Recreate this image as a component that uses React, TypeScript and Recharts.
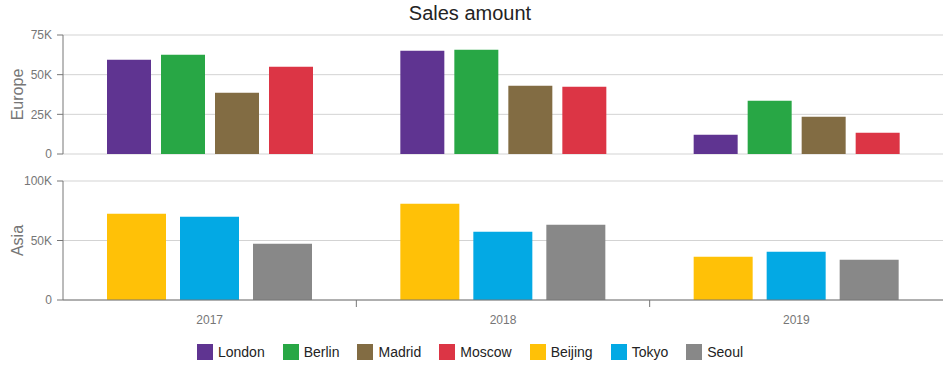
import React from 'react';
import { BarChart, Bar, XAxis, YAxis, CartesianGrid } from 'recharts';

const years = ['2017', '2018', '2019'];
const london = [59400, 65100, 12100];
const berlin = [62600, 65700, 33600];
const madrid = [38600, 43000, 23500];
const moscow = [55000, 42400, 13400];
const beijing = [72500, 80900, 36400];
const tokyo = [70000, 57400, 40600];
const seoul = [47300, 63300, 33900];

const europeTicks = [0, 25000, 50000, 75000];
const asiaTicks = [0, 50000, 100000];

const europeSeries = [
  { key: 'London', values: london, color: '#5f3491' },
  { key: 'Berlin', values: berlin, color: '#28a745' },
  { key: 'Madrid', values: madrid, color: '#826c43' },
  { key: 'Moscow', values: moscow, color: '#dc3545' },
];
const asiaSeries = [
  { key: 'Beijing', values: beijing, color: '#ffc107' },
  { key: 'Tokyo', values: tokyo, color: '#03a9e4' },
  { key: 'Seoul', values: seoul, color: '#888888' },
];

const build = (series: { key: string; values: number[] }[]) =>
  years.map((y, i) => {
    const row: Record<string, string | number> = { year: y };
    series.forEach((s) => (row[s.key] = s.values[i]));
    return row;
  });

const europeData = build(europeSeries);
const asiaData = build(asiaSeries);

const FONT = '"Liberation Sans", Arial, sans-serif';
const AXIS = '#767676';
const GRID = '#d3d3d3';
const W = 948;
const MR = 5;
const YW = 63;
const HALF_BAND = (W - MR - YW) / years.length / 2;

const fmt = (v: number) => (v === 0 ? '0' : `${v / 1000}K`);

const titleLabel = (text: string) => (props: any) => {
  const vb = props.viewBox || {};
  const cy = (vb.y || 0) + (vb.height || 0) / 2;
  const cx = 17;
  return (
    <text
      x={cx}
      y={cy}
      transform={`rotate(-90 ${cx} ${cy})`}
      textAnchor="middle"
      dominantBaseline="central"
      fill={AXIS}
      fontSize={16}
      fontFamily={FONT}
    >
      {text}
    </text>
  );
};

const XTick = (props: any) => {
  const { x, y, payload, index } = props;
  return (
    <g>
      {index > 0 && (
        <line x1={x - HALF_BAND} x2={x - HALF_BAND} y1={y} y2={y + 7} stroke={AXIS} strokeWidth={1} />
      )}
      <text x={x} y={y + 24} textAnchor="middle" fill={AXIS} fontSize={12} fontFamily={FONT}>
        {payload.value}
      </text>
    </g>
  );
};

const tickStyle = { fill: AXIS, fontSize: 12, fontFamily: FONT };

export default function App() {
  const all = [...europeSeries, ...asiaSeries];
  return (
    <div style={{ position: 'absolute', left: 0, top: 0, width: W, height: 371, fontFamily: FONT, background: '#fff' }}>
      <div
        style={{
          position: 'absolute',
          left: 0,
          top: 0,
          width: 940,
          textAlign: 'center',
          fontSize: 20,
          lineHeight: '26px',
          color: '#232323',
        }}
      >
        Sales amount
      </div>
      <div style={{ position: 'absolute', left: 0, top: 0 }}>
        <BarChart
          width={W}
          height={160}
          data={europeData}
          margin={{ top: 35, right: MR, left: 0, bottom: 6 }}
          barGap={10}
          barCategoryGap="15%"
        >
          <CartesianGrid vertical={false} stroke={GRID} />
          <XAxis dataKey="year" hide />
          <YAxis
            width={YW}
            domain={[0, 75000]}
            ticks={europeTicks}
            interval={0}
            tickFormatter={fmt}
            tick={tickStyle}
            tickSize={6}
            tickMargin={5}
            stroke={AXIS}
            axisLine={{ stroke: AXIS }}
            tickLine={{ stroke: AXIS }}
            label={titleLabel('Europe')}
          />
          {europeSeries.map((s) => (
            <Bar key={s.key} dataKey={s.key} fill={s.color} isAnimationActive={false} />
          ))}
        </BarChart>
      </div>
      <div style={{ position: 'absolute', left: 0, top: 160 }}>
        <BarChart
          width={W}
          height={180}
          data={asiaData}
          margin={{ top: 21, right: MR, left: 0, bottom: 0 }}
          barGap={14}
          barCategoryGap="15%"
        >
          <CartesianGrid vertical={false} stroke={GRID} />
          <XAxis
            dataKey="year"
            height={40}
            tickSize={0}
            tickMargin={0}
            tickLine={false}
            axisLine={{ stroke: AXIS }}
            tick={<XTick />}
            interval={0}
          />
          <YAxis
            width={YW}
            domain={[0, 100000]}
            ticks={asiaTicks}
            interval={0}
            tickFormatter={fmt}
            tick={tickStyle}
            tickSize={6}
            tickMargin={5}
            stroke={AXIS}
            axisLine={{ stroke: AXIS }}
            tickLine={{ stroke: AXIS }}
            label={titleLabel('Asia')}
          />
          {asiaSeries.map((s) => (
            <Bar key={s.key} dataKey={s.key} fill={s.color} isAnimationActive={false} />
          ))}
        </BarChart>
      </div>
      <div
        style={{
          position: 'absolute',
          left: 0,
          top: 344,
          width: 940,
          display: 'flex',
          justifyContent: 'center',
          fontSize: 14,
          lineHeight: '16px',
          color: '#232323',
        }}
      >
        {all.map((s, i) => (
          <div key={s.key} style={{ display: 'flex', alignItems: 'center', marginLeft: i === 0 ? 0 : 18 }}>
            <div style={{ width: 16, height: 16, background: s.color, marginRight: 5 }} />
            <span>{s.key}</span>
          </div>
        ))}
      </div>
    </div>
  );
}
